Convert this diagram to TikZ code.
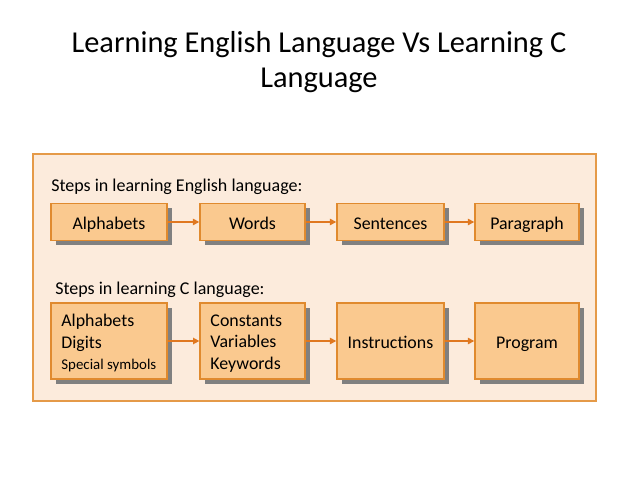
\documentclass[tikz,border=0pt]{standalone}
\usepackage{fontspec}
\setmainfont{Carlito}
\usetikzlibrary{arrows.meta,shadows}
\definecolor{boxfill}{HTML}{FAC98F}
\definecolor{boxline}{HTML}{E08A2E}
\definecolor{panelfill}{HTML}{FCEBDC}
\definecolor{panelline}{HTML}{E59A48}
\definecolor{arrowc}{HTML}{E07820}
\newcommand{\topstrut}{\rule{0pt}{12pt}}
\tikzset{bx/.style={draw=boxline,fill=boxfill,line width=1pt,minimum height=9.25mm,
  drop shadow={shadow xshift=3.5pt,shadow yshift=-3.5pt,fill=black!50,opacity=1},
  font=\fontsize{12.7}{15.3}\selectfont},
 one/.style={text height=12pt,text depth=2pt},
 tall/.style={minimum height=19mm},
 lst/.style={align=flush left,inner xsep=2.6mm},
 flow/.style={-{Triangle[length=4.5pt,width=4.5pt]},draw=arrowc,line width=1pt},
 hd/.style={anchor=west,inner sep=0pt,font=\fontsize{12.8}{15}\selectfont},
 ttl/.style={align=center,font=\fontsize{21.6}{25.5}\selectfont}}
\begin{document}
\begin{tikzpicture}[x=0.025cm,y=-0.025cm]
\useasboundingbox (0,0) rectangle (638,478);
\node[ttl] (title) at (319,62){Learning English Language Vs Learning C\\Language};
\draw[draw=panelline,fill=panelfill,line width=1pt](33,154) rectangle (596,401);
% english
\node[hd] (he) at (51,187){Steps in learning English language:};
\node[bx,one,minimum width=29mm] (e1) at (109,222){Alphabets};
\node[bx,one,minimum width=26.25mm] (e2) at (252.5,222){Words};
\node[bx,one,minimum width=26.75mm] (e3) at (390.5,222){Sentences};
\node[bx,one,minimum width=26mm] (e4) at (527,222){Paragraph};
\foreach \a/\b in {e1/e2,e2/e3,e3/e4}{\draw[flow](\a.east)--(\b.west);}
% c
\node[hd] (hc) at (55,290){Steps in learning C language:};
\node[bx,tall,lst,text width=23.8mm] (c1) at (109,341){\topstrut Alphabets\\Digits\\{\fontsize{10.6}{15.3}\selectfont Special symbols}};
\node[bx,tall,lst,text width=21mm] (c2) at (252.5,341){\topstrut Constants\\Variables\\Keywords};
\node[bx,one,tall,minimum width=26.75mm] (c3) at (390.5,341){Instructions};
\node[bx,one,tall,minimum width=26mm] (c4) at (527,341){Program};
\foreach \a/\b in {c1/c2,c2/c3,c3/c4}{\draw[flow](\a.east)--(\b.west);}
\end{tikzpicture}
\end{document}
